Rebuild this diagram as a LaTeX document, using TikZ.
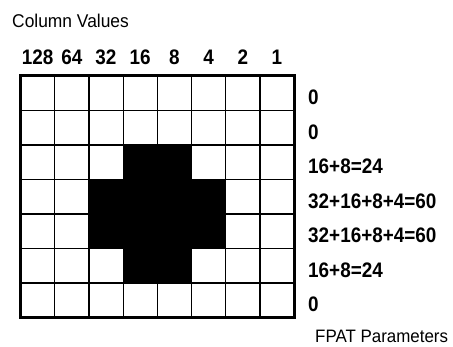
\documentclass[tikz,border=0pt]{standalone}
\usepackage{fontspec}
\setmainfont{Liberation Sans}
\newfontfamily\narrowsans[FakeStretch=0.94]{Liberation Sans}
\newfontfamily\narrowbold[FakeStretch=0.9]{Liberation Sans Bold}
\begin{document}
\begin{tikzpicture}[x=1pt,y=1pt,
  plain/.style={font=\narrowsans\fontsize{18.5}{21}\selectfont, inner sep=0pt, anchor=base west},
  num/.style={font=\narrowbold\fontsize{21}{24}\selectfont, inner sep=0pt},
  rowlab/.style={num, anchor=base west},
  collab/.style={num, anchor=base},
  cellfill/.style={fill=black, draw=none},
  innerline/.style={line width=1.2pt, black},
  outerline/.style={line width=3pt, black}]
\useasboundingbox (0,0) rectangle (453,-347);
\def\gx{20.5}\def\gy{-76}\def\cw{34.2}\def\ch{34.5}
% black cells
\foreach \r/\c in {2/3,2/4,3/2,3/3,3/4,3/5,4/2,4/3,4/4,4/5,5/3,5/4}{
  \fill[cellfill] ({\gx+\c*\cw},{\gy-\r*\ch}) rectangle ({\gx+(\c+1)*\cw},{\gy-(\r+1)*\ch});
}
% inner lines
\foreach \c in {1,...,7}{
  \draw[innerline] ({\gx+\c*\cw},\gy) -- ({\gx+\c*\cw},{\gy-7*\ch});
}
\foreach \r in {1,...,6}{
  \draw[innerline] (\gx,{\gy-\r*\ch}) -- ({\gx+8*\cw},{\gy-\r*\ch});
}
\draw[outerline] (\gx,\gy) rectangle ({\gx+8*\cw},{\gy-7*\ch});
% titles
\node[plain] (title) at (12,-28) {Column Values};
\node[plain, font=\narrowsans\fontsize{18}{21}\selectfont] (fpat) at (315,-343) {FPAT Parameters};
% column values
\foreach \v [count=\i from 0] in {128,64,32,16,8,4,2,1}{
  \node[collab] (col\i) at ({\gx+(\i+0.5)*\cw},-65) {\v};
}
% row values
\foreach \t [count=\i from 0] in {0,0,16+8=24,32+16+8+4=60,32+16+8+4=60,16+8=24,0}{
  \node[rowlab] (row\i) at (308,{\gy-(\i+0.5)*\ch-11.5}) {\t};
}
\end{tikzpicture}
\end{document}
